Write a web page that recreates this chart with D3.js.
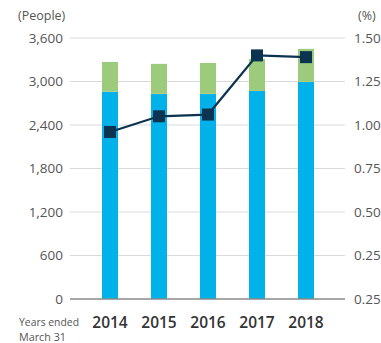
<!DOCTYPE html>
<html>
<head>
<meta charset="utf-8">
<script src="https://cdn.jsdelivr.net/npm/d3@7"></script>
<style>
  html, body { margin: 0; padding: 0; background: #fff; }
  svg { display: block; font-family: "Open Sans", "Noto Sans", sans-serif; }
</style>
</head>
<body>
<div id="chart"></div>
<script>
  // data
  var years = ["2014", "2015", "2016", "2017", "2018"];
  var peopleBase = [2860, 2830, 2830, 2870, 2995];   // blue segment
  var peopleTop = [410, 413, 425, 440, 455];         // green segment
  var ratePct = [0.96, 1.05, 1.06, 1.40, 1.39];      // line (right axis)
  var leftTicks = [0, 600, 1200, 1800, 2400, 3000, 3600];
  var rightTicks = [0, 0.25, 0.5, 0.75, 1.0, 1.25, 1.5];
  var rightTickLabels = ["0.25", "0.25", "0.50", "0.75", "1.00", "1.25", "1.50"];

  var C = { blue: "#00b1ea", green: "#9bcb7b", line: "#0c3350", grid: "#d6dadd", axis: "#8a8a8a",
            tick: "#555", year: "#333" };

  var W = 381, H = 343;
  var m = { top: 38, left: 70, right: 36, bottom: 44 };
  var iw = W - m.left - m.right, ih = H - m.top - m.bottom;

  var svg = d3.select("#chart").append("svg").attr("width", W).attr("height", H);
  var g = svg.append("g").attr("transform", "translate(" + m.left + "," + m.top + ")");

  var x = d3.scalePoint().domain(years).range([40, 236]);
  var y = d3.scaleLinear().domain([0, 3600]).range([ih, 0]);
  var y2 = d3.scaleLinear().domain([0, 1.5]).range([ih, 0]);

  // gridlines
  g.selectAll("line.grid").data(leftTicks.slice(1)).enter().append("line")
    .attr("x1", 0).attr("x2", iw)
    .attr("y1", function (d) { return y(d); }).attr("y2", function (d) { return y(d); })
    .attr("stroke", C.grid).attr("stroke-width", 1.2);

  // left axis labels
  g.append("g").call(d3.axisLeft(y).tickValues(leftTicks).tickSize(0).tickPadding(7).tickFormat(d3.format(",")))
    .call(function (a) { a.select(".domain").remove(); })
    .selectAll("text").attr("fill", C.tick).style("font-size", "13.5px").style("font-family", "Open Sans, sans-serif");

  // right axis labels
  g.append("g").attr("transform", "translate(" + iw + ",0)")
    .call(d3.axisRight(y2).tickValues(rightTicks).tickSize(0).tickPadding(9)
      .tickFormat(function (d, i) { return rightTickLabels[i]; }))
    .call(function (a) { a.select(".domain").remove(); })
    .selectAll("text").attr("fill", C.tick).style("font-size", "13.5px").style("font-family", "Open Sans, sans-serif");

  var bw = 16;
  // stacked bars
  g.selectAll("rect.base").data(years).enter().append("rect")
    .attr("x", function (d) { return x(d) - bw / 2; }).attr("width", bw)
    .attr("y", function (d, i) { return y(peopleBase[i]); })
    .attr("height", function (d, i) { return ih - y(peopleBase[i]); })
    .attr("fill", C.blue);
  g.selectAll("rect.top").data(years).enter().append("rect")
    .attr("x", function (d) { return x(d) - bw / 2; }).attr("width", bw)
    .attr("y", function (d, i) { return y(peopleBase[i] + peopleTop[i]); })
    .attr("height", function (d, i) { return y(peopleBase[i]) - y(peopleBase[i] + peopleTop[i]); })
    .attr("fill", C.green);

  // baseline
  g.append("line").attr("x1", 0).attr("x2", iw).attr("y1", ih).attr("y2", ih)
    .attr("stroke", C.axis).attr("stroke-width", 1.3);

  // rate line + square markers
  var pts = years.map(function (d, i) { return [x(d), y2(ratePct[i])]; });
  g.append("path").attr("d", d3.line()(pts)).attr("fill", "none")
    .attr("stroke", C.line).attr("stroke-width", 2.2);
  var ms = 12;
  g.selectAll("rect.mk").data(pts).enter().append("rect")
    .attr("x", function (p) { return p[0] - ms / 2; }).attr("y", function (p) { return p[1] - ms / 2; })
    .attr("width", ms).attr("height", ms).attr("fill", C.line);

  // year labels
  g.selectAll("text.yr").data(years).enter().append("text")
    .attr("x", function (d) { return x(d); }).attr("y", ih + 29)
    .attr("text-anchor", "middle").attr("fill", C.year)
    .style("font-size", "15.5px").style("font-weight", 600).text(function (d) { return d; });

  // unit labels
  svg.append("text").attr("x", 18).attr("y", 20).attr("fill", C.tick).style("font-size", "12.5px").text("(People)");
  svg.append("text").attr("x", 358).attr("y", 20).attr("fill", C.tick).style("font-size", "12.5px").text("(%)");
  svg.append("text").attr("x", 19).attr("y", 326).attr("fill", C.tick).style("font-size", "11.5px")
    .attr("textLength", 60).attr("lengthAdjust", "spacingAndGlyphs").text("Years ended");
  svg.append("text").attr("x", 19).attr("y", 341).attr("fill", C.tick).style("font-size", "11.5px")
    .attr("textLength", 47).attr("lengthAdjust", "spacingAndGlyphs").text("March 31");
</script>
</body>
</html>
